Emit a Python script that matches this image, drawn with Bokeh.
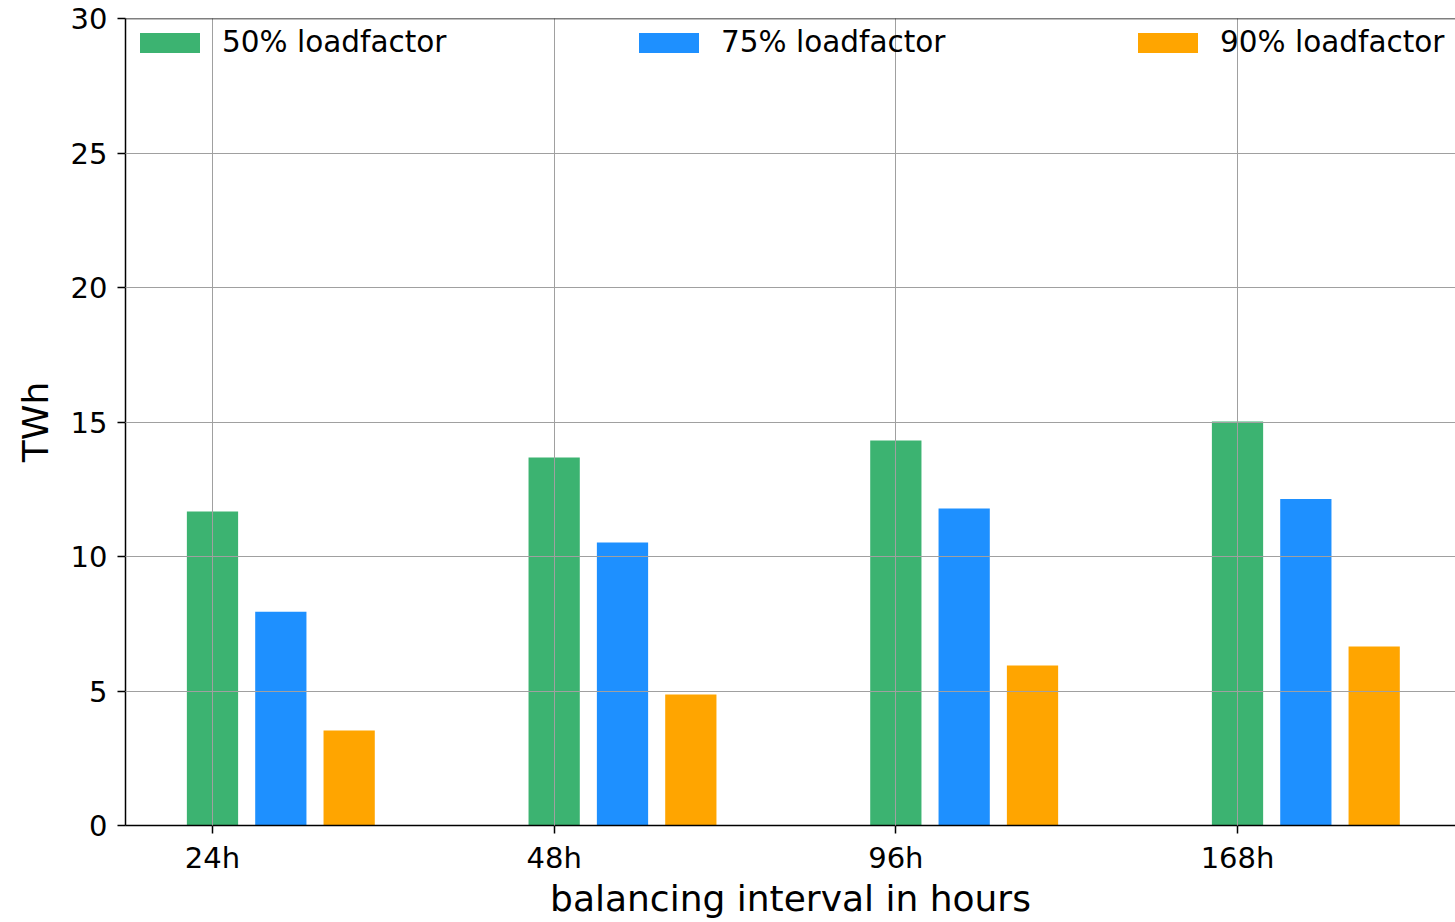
from bokeh.plotting import figure
from bokeh.models import Legend, LegendItem, FixedTicker, Span, ColumnDataSource
from bokeh.embed import file_html
from bokeh.resources import INLINE

# balancing intervals (x categories) and storage needed per load factor, TWh
intervals = ["24h", "48h", "96h", "168h"]
lf50 = [11.67, 13.68, 14.31, 15.02]
lf75 = [7.95, 10.52, 11.78, 12.14]
lf90 = [3.53, 4.87, 5.95, 6.65]
series_names = ["50% loadfactor", "75% loadfactor", "90% loadfactor"]
series_colors = ["#3CB371", "#1E90FF", "#FFA500"]

FONT = "DejaVu Sans"
bar_w = 0.15
offsets = [0.0, 0.2, 0.4]

p = figure(width=1455, height=922, output_backend="svg", toolbar_location=None,
           x_range=(-0.2546, 3.638), y_range=(0, 30),
           min_border_left=125, min_border_right=0, min_border_top=18,
           min_border_bottom=97)
p.outline_line_color = None
p.background_fill_color = "white"

idx = list(range(len(intervals)))
items = []
for vals, name, col, off in zip([lf50, lf75, lf90], series_names, series_colors, offsets):
    src = ColumnDataSource(dict(x=[i + off for i in idx], top=vals))
    r = p.vbar(x="x", top="top", width=bar_w, bottom=0, source=src,
               fill_color=col, line_color=None)
    items.append(LegendItem(label=name, renderers=[r]))

legend = Legend(items=items, orientation="horizontal", location="top_left",
                glyph_width=75, glyph_height=25, label_standoff=15,
                label_width=409, spacing=0, padding=0, margin=7,
                label_text_font=FONT, label_text_font_size="29.5px",
                label_text_color="black",
                background_fill_alpha=0, border_line_alpha=0)
p.add_layout(legend, "center")

# grid drawn over the bars
for g in (p.xgrid, p.ygrid):
    g.grid_line_color = "#a0a0a0"
    g.grid_line_width = 1
    g.level = "annotation"
p.xgrid.ticker = FixedTicker(ticks=idx)
p.ygrid.ticker = FixedTicker(ticks=[0, 5, 10, 15, 20, 25, 30])

# top spine
p.add_layout(Span(location=30, dimension="width", line_color="black", line_width=1.5))

xa = p.xaxis[0]
xa.ticker = FixedTicker(ticks=idx)
xa.major_label_overrides = {i: lab for i, lab in zip(idx, intervals)}
xa.axis_label = "balancing interval in hours"

ya = p.yaxis[0]
ya.ticker = FixedTicker(ticks=[0, 5, 10, 15, 20, 25, 30])
ya.axis_label = "TWh"

for ax in (xa, ya):
    ax.axis_line_color = "black"
    ax.axis_line_width = 1.5
    ax.major_tick_line_color = "black"
    ax.major_tick_line_width = 1.5
    ax.major_tick_out = 8
    ax.major_tick_in = 0
    ax.minor_tick_line_color = None
    ax.major_label_text_font = FONT
    ax.major_label_text_font_size = "29px"
    ax.major_label_text_color = "black"
    ax.axis_label_text_font = FONT
    ax.axis_label_text_font_size = "36px"
    ax.axis_label_text_font_style = "normal"
    ax.axis_label_text_color = "black"
xa.major_label_standoff = 7
xa.axis_label_standoff = 0
ya.major_label_standoff = 10
ya.axis_label_standoff = 12

open("out.html", "w").write(file_html(p, INLINE))
